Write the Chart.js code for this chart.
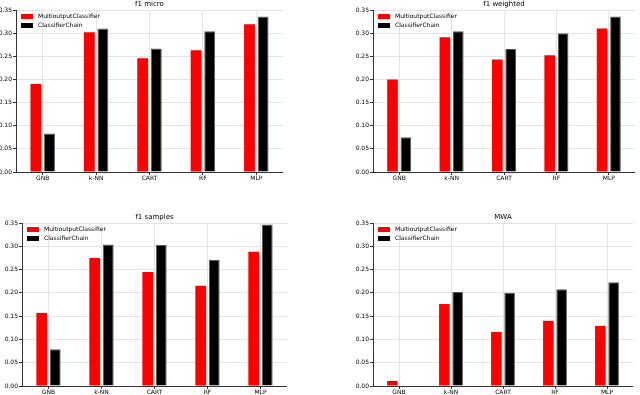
<!DOCTYPE html>
<html>
<head>
<meta charset="utf-8">
<script src="https://cdn.jsdelivr.net/npm/chart.js@4/dist/chart.umd.min.js"></script>
<style>
  html, body { margin: 0; padding: 0; background: #fff; }
  body { width: 640px; height: 395px; position: relative; overflow: hidden; }
  canvas { position: absolute; }
</style>
</head>
<body>
<canvas id="c1"></canvas>
<canvas id="c2"></canvas>
<canvas id="c3"></canvas>
<canvas id="c4"></canvas>
<script>
const categories = ['GNB', 'k-NN', 'CART', 'RF', 'MLP'];
const seriesNames = ['MultioutputClassifier', 'ClassifierChain'];
const yTicks = [0, 0.05, 0.10, 0.15, 0.20, 0.25, 0.30, 0.35];

const titles = ['f1 micro', 'f1 weighted', 'f1 samples', 'MWA'];

const microMulti = [0.190, 0.302, 0.246, 0.263, 0.319];
const microChain = [0.083, 0.310, 0.267, 0.304, 0.336];

const weightedMulti = [0.200, 0.291, 0.243, 0.252, 0.310];
const weightedChain = [0.075, 0.304, 0.266, 0.300, 0.336];

const samplesMulti = [0.157, 0.275, 0.245, 0.215, 0.288];
const samplesChain = [0.079, 0.304, 0.303, 0.271, 0.347];

const mwaMulti = [0.011, 0.176, 0.116, 0.140, 0.129];
const mwaChain = [0.000, 0.202, 0.200, 0.208, 0.223];

const FONT = 'DejaVu Sans';
const AXIS_W = 30, AXIS_H = 18, TOP_PAD = 12;

// where each canvas sits on the page (axes box = canvas minus axis strips)
const panels = [
  { id: 'c1', left: -14, top: -2, width: 297, height: 192, title: titles[0], a: microMulti, b: microChain },
  { id: 'c2', left: 343, top: -2, width: 292, height: 192, title: titles[1], a: weightedMulti, b: weightedChain },
  { id: 'c3', left: -8, top: 211, width: 295, height: 193, title: titles[2], a: samplesMulti, b: samplesChain },
  { id: 'c4', left: 343, top: 211, width: 290, height: 193, title: titles[3], a: mwaMulti, b: mwaChain }
];

// title centred over the axes, legend in the upper left corner of the axes
const axesText = {
  id: 'axesText',
  afterDraw(chart, args, opts) {
    const ctx = chart.ctx, area = chart.chartArea;
    ctx.save();
    ctx.fillStyle = '#000';
    ctx.font = '7px "' + FONT + '"';
    ctx.textAlign = 'center';
    ctx.textBaseline = 'alphabetic';
    ctx.fillText(opts.text, (area.left + area.right) / 2, area.top - 4);

    ctx.font = '6px "' + FONT + '"';
    ctx.textBaseline = 'middle';
    ctx.textAlign = 'left';
    chart.data.datasets.forEach((ds, i) => {
      const x = area.left + 5, y = area.top + 6.5 + i * 9;
      ctx.fillStyle = ds.backgroundColor;
      ctx.fillRect(x, y - 2.5, 12, 5);
      ctx.fillStyle = '#000';
      ctx.fillText(ds.label, x + 17, y);
    });
    ctx.restore();
  }
};

function makePanel(p) {
  const cv = document.getElementById(p.id);
  cv.width = p.width; cv.height = p.height;
  cv.style.left = p.left + 'px'; cv.style.top = p.top + 'px';

  new Chart(cv.getContext('2d'), {
    type: 'bar',
    data: {
      labels: categories,
      datasets: [
        { label: seriesNames[0], data: p.a, backgroundColor: '#ff0000', borderWidth: 0,
          categoryPercentage: 0.51, barPercentage: 0.8 },
        { label: seriesNames[1], data: p.b, backgroundColor: '#000000', borderColor: '#555555', borderWidth: 1,
          categoryPercentage: 0.51, barPercentage: 0.8 }
      ]
    },
    options: {
      responsive: false,
      animation: false,
      layout: { padding: { top: TOP_PAD, left: 0, right: 0, bottom: 0 } },
      plugins: {
        title: { display: false },
        legend: { display: false },
        tooltip: { enabled: false },
        axesText: { text: p.title }
      },
      scales: {
        x: {
          grid: { offset: false, color: '#e3e3e3', tickColor: '#333', tickLength: 3 },
          border: { color: '#333', width: 1 },
          ticks: { color: '#000', padding: 0, font: { family: FONT, size: 6 }, maxRotation: 0 },
          afterFit: s => { s.height = AXIS_H; }
        },
        y: {
          min: 0, max: 0.35,
          grid: { color: '#e3e3e3', tickColor: '#333', tickLength: 3 },
          border: { color: '#333', width: 1 },
          ticks: { color: '#000', padding: 1, font: { family: FONT, size: 6 },
                   callback: v => Number(v).toFixed(2) },
          afterBuildTicks: s => { s.ticks = yTicks.map(v => ({ value: v })); },
          afterFit: s => { s.width = AXIS_W; }
        }
      }
    },
    plugins: [axesText]
  });
}

panels.forEach(makePanel);
</script>
</body>
</html>
